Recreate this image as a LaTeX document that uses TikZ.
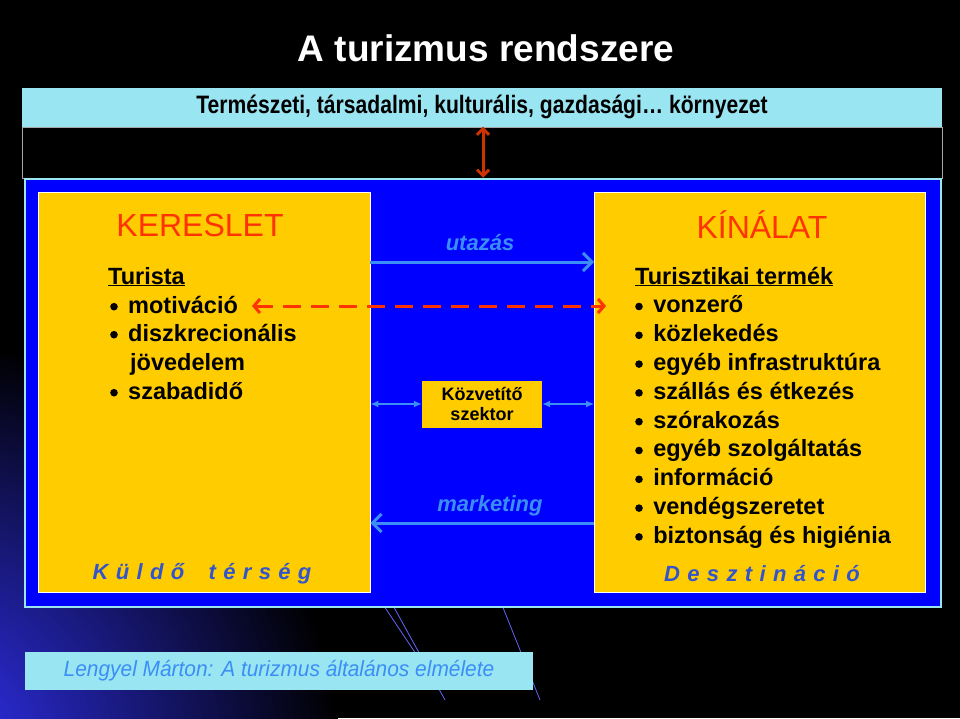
\documentclass[tikz,border=0pt]{standalone}
\usepackage{fontspec}
\setmainfont{Liberation Sans}
\usetikzlibrary{arrows.meta}
\definecolor{cy}{HTML}{99E5F2}
\definecolor{bl}{HTML}{0000FF}
\definecolor{ye}{HTML}{FFCC00}
\definecolor{rd}{HTML}{FF3300}
\definecolor{lb}{HTML}{3A8EF5}
\definecolor{tb}{HTML}{3355CC}
\definecolor{dr}{HTML}{CC3300}
\tikzset{
 ybox/.style={fill=ye,draw=white,line width=0.8pt},
 itm/.style={anchor=base west,font=\fontsize{23.5}{26}\selectfont\bfseries,inner sep=0},
 big/.style={font=\fontsize{32}{36}\selectfont,text=rd},
 reg/.style={font=\fontsize{22}{24}\selectfont\bfseries\itshape,text=tb},
 flow/.style={lb,line width=3pt,-{Straight Barb[length=9pt,width=18pt]}},
 thin/.style={lb,line width=1.5pt,{Latex[length=8pt,width=7pt]}-{Latex[length=8pt,width=7pt]}}
}
\newcommand{\bul}{\raisebox{2.5pt}{\tikz\fill circle(3.8pt);}\ \,}
\begin{document}
\begin{tikzpicture}[x=1pt,y=-1pt]
\useasboundingbox (0,0) rectangle (960,718);
\fill[black] (0,0) rectangle (960,718);
\begin{scope}
\clip (0,130) rectangle (960,718);
\shade[inner color=bl!80,outer color=black] (-80,760) circle (420pt);
\end{scope}
\fill[black] (0,0) rectangle (960,178);
\draw[bl!60,line width=0.8pt] (380,600)--(440,690) (390,600)--(445,700) (500,600)--(540,700);
\node[text=white,font=\fontsize{37}{40}\selectfont\bfseries] (title) at (486,48) {A turizmus rendszere};
\node[fill=cy,minimum width=920pt,minimum height=39pt,inner sep=0,font=\fontsize{24}{26}\selectfont\bfseries] (env) at (482,107) {\scalebox{0.88}[1.05]{Természeti, társadalmi, kulturális, gazdasági… környezet}};
\draw[gray!70,line width=1pt] (22,127) rectangle (942,178);
\node[fill=bl,draw=cy,line width=2.5pt,minimum width=916pt,minimum height=428pt,inner sep=0] (sys) at (483,393) {};
\node[ybox,minimum width=332pt,minimum height=400pt] (left) at (204,392) {};
\node[ybox,minimum width=331pt,minimum height=400pt] (right) at (760,392) {};
\draw[dr,line width=3pt,{Straight Barb[length=6pt,width=12pt]}-{Straight Barb[length=6pt,width=12pt]}] (env.south -| 483,0) -- (sys.north -| 483,0);
\node[big] (ker) at (200,225) {KERESLET};
\node[big] (kin) at (762,225) {KÍNÁLAT};
\node[itm] (tur) at (108,284) {\underline{Turista}};
\node[itm] (mot) at (110,313) {\bul motiváció};
\node[itm] (disz) at (110,341) {\bul diszkrecionális};
\node[itm] at (130,370) {jövedelem};
\node[itm] at (110,399) {\bul szabadidő};
\node[itm] (tt) at (635,284) {\underline{Turisztikai termék}};
\foreach \t [count=\i] in {vonzerő,közlekedés,egyéb infrastruktúra,szállás és étkezés,szórakozás,egyéb szolgáltatás,információ,vendégszeretet,biztonság és higiénia}
  \node[itm] (r\i) at (635,284+\i*28.8) {\bul \t};
\node[reg] (kt) at (202,574) {K\,\,ü\,\,l\,\,d\,\,ő\;\;\; t\,\,é\,\,r\,\,s\,\,é\,\,g};
\node[reg] (de) at (762,574) {D\,\,e\,\,s\,\,z\,\,t\,\,i\,\,n\,\,á\,\,c\,\,i\,\,ó};
\node[reg,text=lb] (ut) at (480,243) {utazás};
\draw[flow] (left.east |- 0,262) -- (right.west |- 0,262);
\node[reg,text=lb] (mk) at (490,506) {marketing};
\draw[flow] (right.west |- 0,523) -- (left.east |- 0,523);
\draw[rd,line width=3pt,dash pattern=on 18pt off 10pt,{Straight Barb[length=6pt,width=14pt]}-{Straight Barb[length=6pt,width=14pt]}] (252,306) -- (606,306);
\node[fill=ye,minimum width=120pt,minimum height=47pt,inner sep=0,align=center,font=\fontsize{18}{20}\selectfont\bfseries] (kz) at (482,404) {Közvetítő\\szektor};
\draw[thin] (left.east |- kz) -- (kz.west);
\draw[thin] (kz.east) -- (right.west |- kz);
\node[fill=cy,minimum width=508pt,minimum height=38pt,inner sep=0,text=lb,font=\fontsize{22}{24}\selectfont\itshape] (foot) at (279,671) {\scalebox{0.95}[1]{Lengyel Márton: A turizmus általános elmélete}};
\end{tikzpicture}
\end{document}
